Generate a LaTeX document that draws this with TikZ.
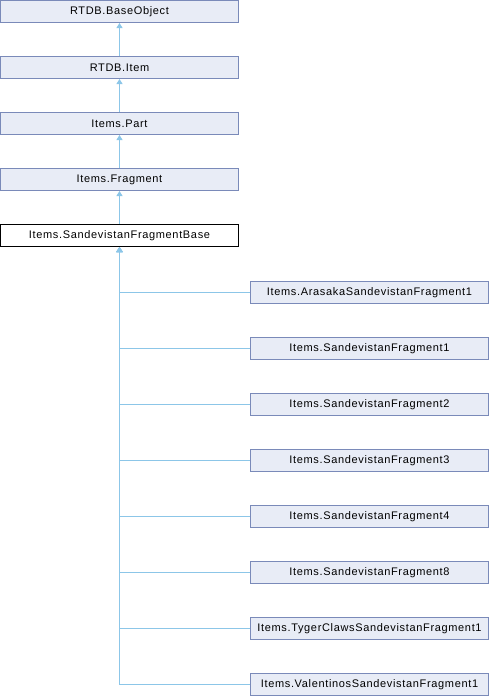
\documentclass[tikz,border=0pt]{standalone}
\usepackage{fontspec}
\setmainfont[LetterSpace=6]{Liberation Sans}
\usetikzlibrary{arrows.meta}
\definecolor{boxfill}{HTML}{E8ECF6}
\definecolor{boxdraw}{HTML}{7A8AB9}
\definecolor{edgecol}{HTML}{8CC6E8}
\begin{document}
\begin{tikzpicture}[x=1pt,y=1pt,
  cls/.style={draw=boxdraw,fill=boxfill,line width=1pt,minimum width=238pt,minimum height=22pt,inner sep=0pt,font=\fontsize{11pt}{13pt}\selectfont},
  cur/.style={cls,draw=black,fill=white},
  inh/.style={draw=edgecol,line width=1pt,-{Triangle[length=5pt,width=6pt]}}]
\useasboundingbox (0,0) rectangle (490,-696);
\node[cls] (bo) at (119.5,-11.5) {RTDB.BaseObject};
\node[cls] (it) at (119.5,-67.5) {RTDB.Item};
\node[cls] (pa) at (119.5,-123.5) {Items.Part};
\node[cls] (fr) at (119.5,-179.5) {Items.Fragment};
\node[cur] (sb) at (119.5,-235.5) {Items.SandevistanFragmentBase};
\node[cls] (c1) at (369.5,-292.5) {Items.ArasakaSandevistanFragment1};
\node[cls] (c2) at (369.5,-348.5) {Items.SandevistanFragment1};
\node[cls] (c3) at (369.5,-404.5) {Items.SandevistanFragment2};
\node[cls] (c4) at (369.5,-460.5) {Items.SandevistanFragment3};
\node[cls] (c5) at (369.5,-516.5) {Items.SandevistanFragment4};
\node[cls] (c6) at (369.5,-572.5) {Items.SandevistanFragment8};
\node[cls] (c7) at (369.5,-628.5) {Items.TygerClawsSandevistanFragment1};
\node[cls] (c8) at (369.5,-684.5) {Items.ValentinosSandevistanFragment1};
\draw[inh] (it.north) -- (bo.south);
\draw[inh] (pa.north) -- (it.south);
\draw[inh] (fr.north) -- (pa.south);
\draw[inh] (sb.north) -- (fr.south);
\foreach \c in {c1,c2,c3,c4,c5,c6,c7,c8}{
  \draw[inh] (\c.west) -| (sb.south);
}
\end{tikzpicture}
\end{document}
